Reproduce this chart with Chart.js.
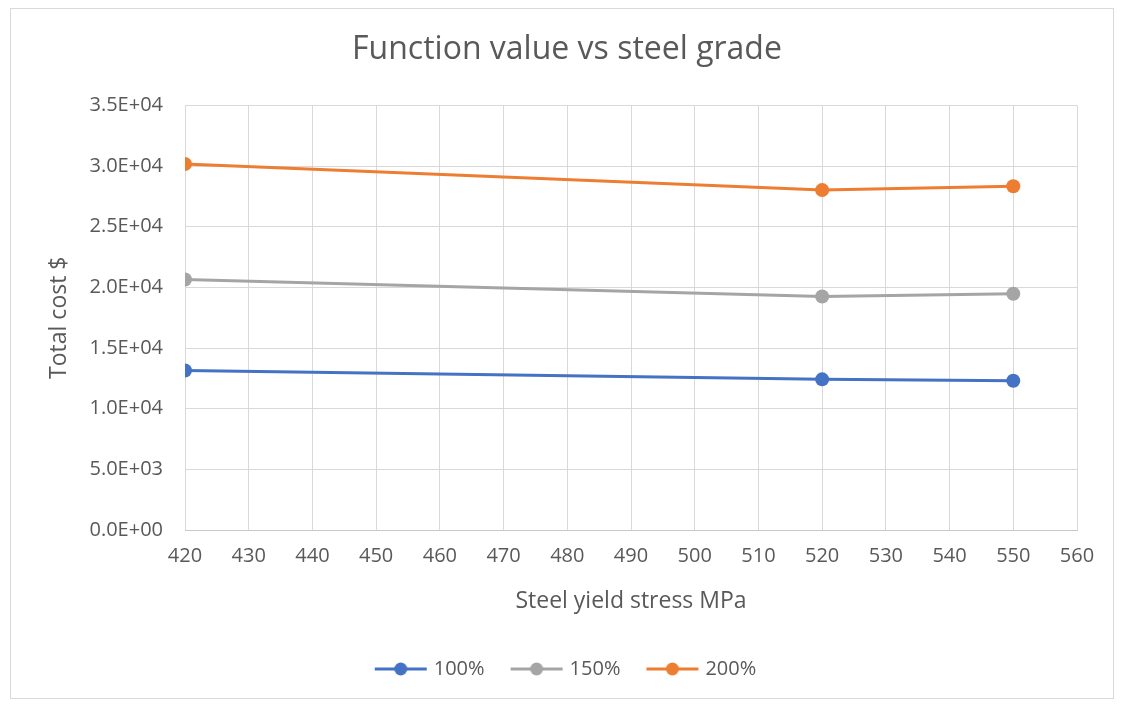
<!DOCTYPE html>
<html>
<head>
<meta charset="utf-8">
<script src="https://cdn.jsdelivr.net/npm/chart.js@4"></script>
<style>
html,body{margin:0;padding:0;background:#fff;}
#wrap{width:1124px;height:706px;position:relative;}
</style>
</head>
<body>
<div id="wrap"><canvas id="c" width="1124" height="706"></canvas></div>
<script>
const xValues = [420, 520, 550];
const series100 = [13150, 12420, 12300];
const series150 = [20650, 19250, 19480];
const series200 = [30170, 28020, 28340];
const seriesNames = ['100%', '150%', '200%'];
const seriesColors = ['#4472C4', '#A5A5A5', '#ED7D31'];
const yTicks = [0, 5000, 10000, 15000, 20000, 25000, 30000, 35000];
const xTicks = [420,430,440,450,460,470,480,490,500,510,520,530,540,550,560];

function fmtExp(v){
  if (v === 0) return '0.0E+00';
  const e = Math.floor(Math.log10(Math.abs(v)));
  const m = v / Math.pow(10, e);
  return m.toFixed(1) + 'E+' + String(e).padStart(2, '0');
}

function legendIcon(color){
  const cv = document.createElement('canvas');
  cv.width = 54; cv.height = 16;
  const g = cv.getContext('2d');
  g.strokeStyle = color; g.lineWidth = 3;
  g.beginPath(); g.moveTo(1, 8); g.lineTo(53, 8); g.stroke();
  g.fillStyle = color;
  g.beginPath(); g.arc(27, 8, 6.5, 0, Math.PI*2); g.fill();
  return cv;
}

const allSeries = [series100, series150, series200];
const datasets = allSeries.map((s, i) => ({
  label: seriesNames[i],
  data: xValues.map((x, j) => ({x: x, y: s[j]})),
  borderColor: seriesColors[i],
  backgroundColor: seriesColors[i],
  borderWidth: 3,
  pointRadius: 7,
  pointHoverRadius: 7,
  pointBorderWidth: 0,
  tension: 0
}));
const icons = seriesColors.map(legendIcon);

const frame = {
  id: 'frame',
  beforeDraw(chart){
    const ctx = chart.ctx;
    ctx.save();
    ctx.fillStyle = '#fff';
    ctx.fillRect(0,0,chart.width,chart.height);
    ctx.strokeStyle = '#d9d9d9';
    ctx.lineWidth = 1;
    ctx.strokeRect(10.5, 8.5, 1103, 690);
    ctx.restore();
  }
};

Chart.defaults.font.family = '"Open Sans", sans-serif';
Chart.defaults.color = '#595959';

new Chart(document.getElementById('c'), {
  type: 'line',
  data: { datasets },
  options: {
    responsive: false,
    animation: false,
    layout: { padding: { left: 57, right: 47, top: 0, bottom: 17 } },
    plugins: {
      title: {
        display: true,
        text: 'Function value vs steel grade',
        font: { size: 32, weight: 'normal' },
        color: '#595959',
        padding: { top: 31, bottom: 36 }
      },
      legend: {
        position: 'bottom',
        labels: {
          usePointStyle: true,
          pointStyleWidth: 46,
          font: { size: 20 },
          color: '#595959',
          padding: 29,
          generateLabels(chart){
            return chart.data.datasets.map((d, i) => ({
              text: d.label,
              pointStyle: icons[i],
              fillStyle: d.borderColor,
              strokeStyle: d.borderColor,
              lineWidth: 0,
              hidden: false,
              datasetIndex: i,
              fontColor: '#595959'
            }));
          }
        }
      },
      tooltip: { enabled: false }
    },
    scales: {
      x: {
        type: 'linear',
        min: 420, max: 560,
        afterBuildTicks(s){ s.ticks = xTicks.map(v => ({value: v})); },
        afterFit(s){ s.height = 100; },
        ticks: { font: { size: 20 }, color: '#595959', padding: 14, callback: v => String(v), maxRotation: 0 },
        grid: { color: '#d9d9d9', lineWidth: 1, drawTicks: false },
        border: { color: '#c8c8c8', width: 1 },
        title: { display: true, text: 'Steel yield stress MPa', font: { size: 23 }, color: '#595959', padding: { top: 12, bottom: 15 } }
      },
      y: {
        min: 0, max: 35000,
        afterBuildTicks(s){ s.ticks = yTicks.map(v => ({value: v})); },
        afterFit(s){ s.width = 128; },
        ticks: { font: { size: 20 }, color: '#595959', padding: 22, callback: v => fmtExp(v) },
        grid: { color: '#d9d9d9', lineWidth: 1, drawTicks: false },
        border: { display: false },
        title: { display: true, text: 'Total cost $', font: { size: 23 }, color: '#595959', padding: { top: -11, bottom: 10 } }
      }
    }
  },
  plugins: [frame]
});
</script>
</body>
</html>
